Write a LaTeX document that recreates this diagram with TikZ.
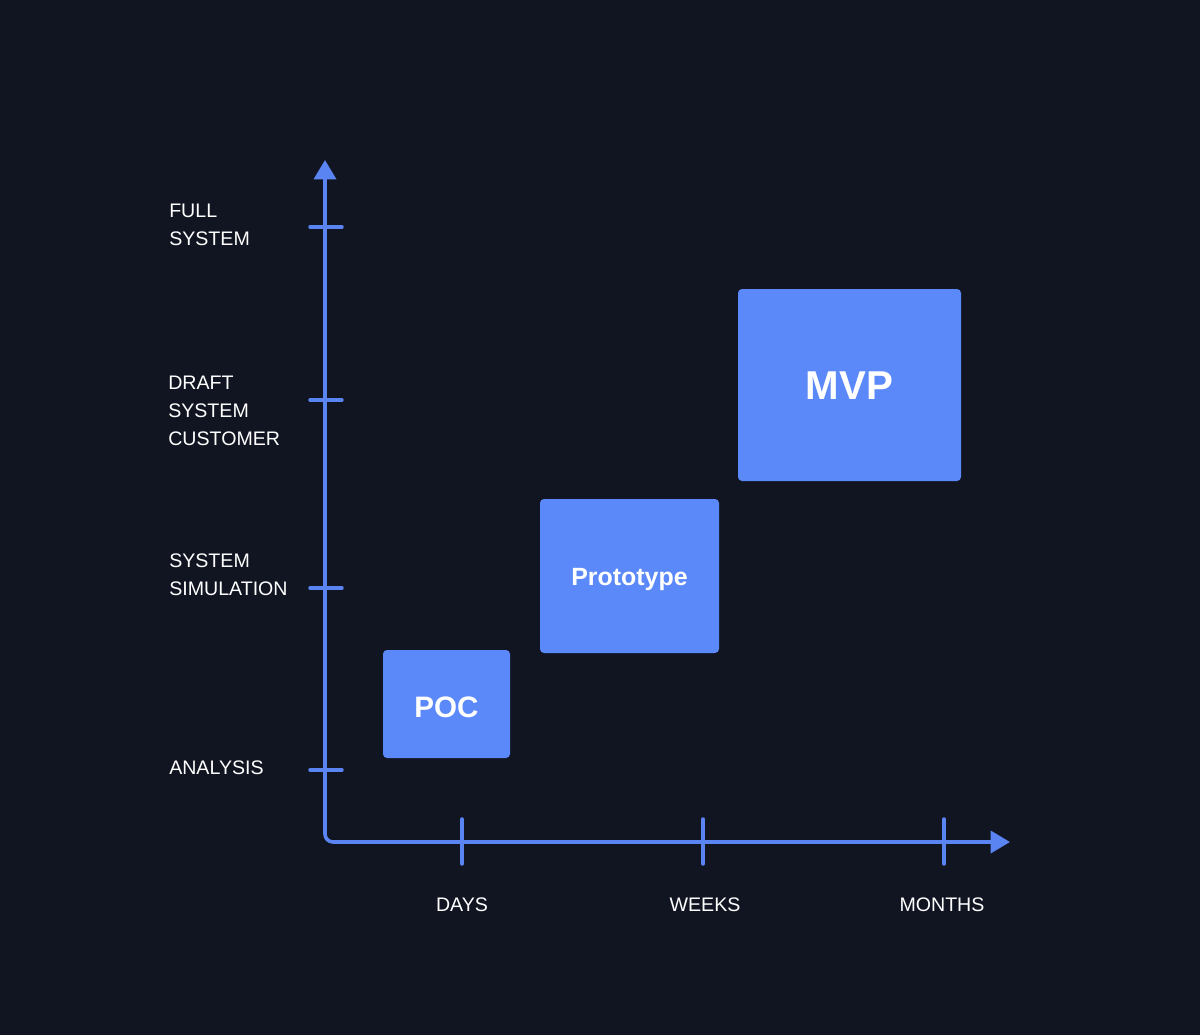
\documentclass[tikz,border=0pt]{standalone}
\usepackage{fontspec}
\setmainfont{Liberation Sans}
\usetikzlibrary{arrows.meta}
\definecolor{bgc}{HTML}{111522}
\definecolor{axisc}{HTML}{5984F2}
\definecolor{boxc}{HTML}{5B89F9}
\tikzset{
  axisline/.style={draw=axisc, line width=2.7pt},
  tickline/.style={draw=axisc, line width=2.6pt, line cap=round},
  ylabel/.style={anchor=west, inner sep=0pt, text=white, align=left,
    font=\fontsize{14.7pt}{21pt}\selectfont},
  xlabel/.style={anchor=center, inner sep=0pt, text=white,
    font=\fontsize{14.7pt}{21pt}\selectfont},
  stagebox/.style={fill=boxc, rounded corners=3pt, inner sep=0pt},
  stagetext/.style={text=white, inner sep=0pt, anchor=center}
}
\begin{document}
\begin{tikzpicture}[x=0.75pt,y=-0.75pt]
\useasboundingbox[fill=bgc] (0,0) rectangle (1200,1035);
% axes
\coordinate (ytop) at (325,160);
\coordinate (O) at (325,842);
\coordinate (xend) at (1010,842);
\draw[axisline, rounded corners=6pt,
  {Triangle[length=14.5pt,width=16.5pt]}-{Triangle[length=14.5pt,width=16.5pt]}]
  (ytop) -- (O) -- (xend);
% y ticks
\foreach \y/\n in {227/yt1,400/yt2,588/yt3,770/yt4}{
  \coordinate (\n a) at (310,\y);
  \coordinate (\n b) at (342,\y);
  \draw[tickline] (\n a) -- (\n b);
}
% x ticks
\foreach \x/\n in {462/xt1,703/xt2,944/xt3}{
  \coordinate (\n a) at (\x,819);
  \coordinate (\n b) at (\x,864);
  \draw[tickline] (\n a) -- (\n b);
}
% y labels
\node[ylabel] (lfull) at (169,225) {FULL\\SYSTEM};
\node[ylabel] (ldraft) at (168,411) {DRAFT\\SYSTEM\\CUSTOMER};
\node[ylabel] (lsim) at (169,575) {SYSTEM\\SIMULATION};
\node[ylabel] (lan) at (169,768) {ANALYSIS};
% x labels
\node[xlabel] (ldays) at (462,905) {DAYS};
\node[xlabel] (lweeks) at (705,905) {WEEKS};
\node[xlabel] (lmonths) at (942,905) {MONTHS};
% boxes
\node[stagebox, minimum width=95.25pt, minimum height=81pt] (poc) at (446.5,704) {};
\node[stagebox, minimum width=134.25pt, minimum height=115.5pt] (proto) at (629.5,576) {};
\node[stagebox, minimum width=167.25pt, minimum height=144pt] (mvp) at (849.5,385) {};
\node[stagetext, font=\bfseries\fontsize{22.2pt}{24pt}\selectfont]
  (poct) at ([yshift=-2.2pt]poc.center) {POC};
\node[stagetext, font=\bfseries\fontsize{18.7pt}{22pt}\selectfont]
  (protot) at ([yshift=-2.8pt]proto.center) {Prototype};
\node[stagetext, font=\bfseries\fontsize{30.2pt}{32pt}\selectfont]
  (mvpt) at ([yshift=-0.8pt]mvp.center) {MVP};
\end{tikzpicture}
\end{document}
